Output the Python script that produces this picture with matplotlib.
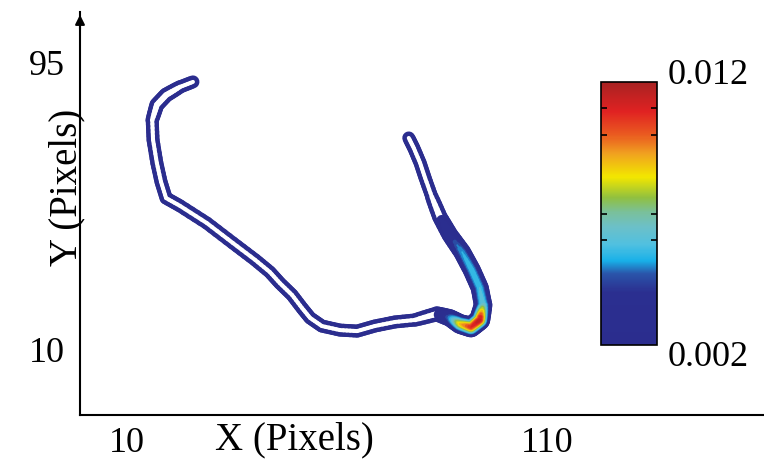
import numpy as np
import matplotlib
matplotlib.use('Agg')
import matplotlib.pyplot as plt
from matplotlib.collections import LineCollection
from matplotlib.colors import LinearSegmentedColormap, Normalize
from matplotlib.cm import ScalarMappable

# Trajectory (pixels) and density
path_x = [25.7, 22.6, 19.3, 17.1, 16.0, 16.2, 17.1, 18.1, 19.3, 22.6,
          29.0, 35.2, 40.5, 44.0, 46.4, 49.3, 51.7, 53.6, 56.4, 60.7,
          64.8, 69.0, 73.8, 78.6, 83.8, 86.9, 89.3, 91.9, 94.0, 94.8,
          94.0, 92.1, 89.8, 86.9, 84.5, 82.6, 81.0, 79.8, 78.3, 77.1]
path_y = [89.4, 87.9, 85.5, 82.6, 78.1, 72.2, 65.4, 59.8, 55.0, 52.7,
          47.6, 41.7, 36.7, 33.1, 29.8, 26.3, 22.4, 19.5, 17.1, 15.9,
          15.6, 17.1, 18.3, 18.9, 20.7, 19.5, 17.7, 16.8, 18.9, 23.3,
          28.4, 33.7, 39.0, 44.1, 49.4, 55.3, 60.9, 65.4, 69.8, 72.8]
density = [0.002, 0.002, 0.0025, 0.0025, 0.002, 0.002, 0.002, 0.002, 0.002, 0.002,
           0.002, 0.002, 0.002, 0.002, 0.002, 0.002, 0.002, 0.002, 0.002, 0.002,
           0.002, 0.002, 0.002, 0.002, 0.0025, 0.005, 0.009, 0.011, 0.012, 0.0065,
           0.006, 0.006, 0.0055, 0.004, 0.0028, 0.002, 0.002, 0.002, 0.002, 0.002]

x_ticks = [10, 110]
y_ticks = [10, 95]
d_min, d_max = 0.002, 0.012
cbar_ticks = [0.006, 0.007, 0.010, 0.011]

cmap = LinearSegmentedColormap.from_list('traj', [
    (0.00, '#2b2d8e'), (0.20, '#2b2f90'), (0.27, '#2a55aa'), (0.32, '#18b0e8'),
    (0.38, '#50c0e0'), (0.45, '#6cc0c8'), (0.50, '#78c0a0'), (0.56, '#90c040'),
    (0.64, '#f2e600'), (0.73, '#f0a020'), (0.80, '#ea5a20'), (0.89, '#e02222'),
    (1.00, '#a82222')])
norm = Normalize(d_min, d_max)

plt.rcParams['font.family'] = ['Liberation Serif', 'DejaVu Serif']

fig = plt.figure(figsize=(7.64, 4.72), dpi=100)
ax = fig.add_axes([80 / 764, 1 - 415 / 472, 684 / 764, 403 / 472])

# segments, split finer for smoother drawing
px = 0.72  # points per pixel
segs, segd = [], []
for i in range(len(path_x) - 1):
    for t in np.linspace(0, 1, 6)[:-1]:
        t2 = t + 0.2
        x0 = path_x[i] + (path_x[i + 1] - path_x[i]) * t
        y0 = path_y[i] + (path_y[i + 1] - path_y[i]) * t
        x1 = path_x[i] + (path_x[i + 1] - path_x[i]) * t2
        y1 = path_y[i] + (path_y[i + 1] - path_y[i]) * t2
        segs.append([(x0, y0), (x1, y1)])
        segd.append(density[i] + (density[i + 1] - density[i]) * (t + 0.1))
segs = np.array(segs)
segd = np.array(segd)
width = 13 + 8 * np.sqrt((segd - d_min) / (d_max - d_min))

ax.add_collection(LineCollection(segs, colors='#2b2d8e', linewidths=width * px,
                                 capstyle='round', joinstyle='round'))
low = segd < 0.003
ax.add_collection(LineCollection(segs[low], colors='white',
                                 linewidths=(width[low] - 9) * px,
                                 capstyle='round', joinstyle='round'))
for lev in np.arange(0.0025, 0.0121, 0.0005):
    m = (~low) & (segd > lev)
    if not m.any():
        continue
    d = segd[m]
    w = width[m] * np.sqrt(np.log(d / lev) / np.log(d / d_min))
    ax.add_collection(LineCollection(segs[m], colors=[cmap(norm(lev))],
                                     linewidths=w * px,
                                     capstyle='round', joinstyle='round'))

ax.set_xlim(-1.2, 161.7)
ax.set_ylim(-9.25, 110.1)
ax.spines['top'].set_visible(False)
ax.spines['right'].set_visible(False)
ax.spines['left'].set_linewidth(1.5)
ax.spines['bottom'].set_linewidth(1.5)
ax.annotate('', xy=(0, 1.0), xytext=(0, 0.95), xycoords='axes fraction',
            arrowprops=dict(arrowstyle='-|>', color='black', lw=1.5, mutation_scale=14))
ax.set_xticks(x_ticks)
ax.set_yticks(y_ticks)
ax.tick_params(axis='x', length=0, labelsize=26, pad=9)
ax.tick_params(axis='y', length=0, labelsize=26, pad=11)
ax.set_xlabel('X (Pixels)', fontsize=28)
ax.set_ylabel('Y (Pixels)', fontsize=28)
ax.xaxis.set_label_coords(0.314, -0.062)
ax.xaxis.label.set_va('center')
ax.yaxis.set_label_coords(-0.019, 0.566)
ax.yaxis.label.set_va('center')

# colour bar
cax = fig.add_axes([601 / 764, 1 - 345 / 472, 56 / 764, 263 / 472])
cb = fig.colorbar(ScalarMappable(norm=norm, cmap=cmap), cax=cax)
cb.set_ticks(cbar_ticks)
cb.set_ticklabels([''] * len(cbar_ticks))
cb.outline.set_linewidth(1.2)
cax.yaxis.set_ticks_position('both')
cax.tick_params(direction='in', length=4, width=1.2, color='black')
fig.text(668 / 764, 1 - 75 / 472, '0.012', ha='left', va='center', fontsize=26)
fig.text(668 / 764, 1 - 358 / 472, '0.002', ha='left', va='center', fontsize=26)

fig.savefig('out.png', dpi=100)
